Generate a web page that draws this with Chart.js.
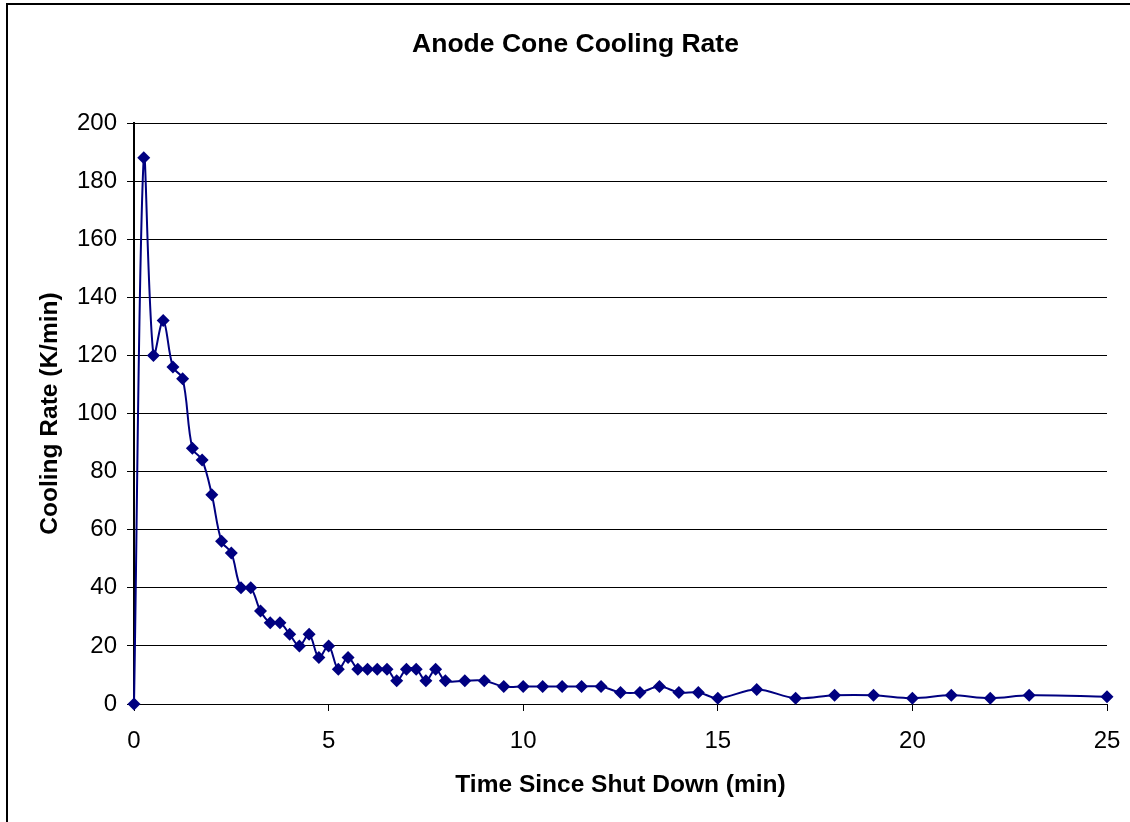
<!DOCTYPE html>
<html>
<head>
<meta charset="utf-8">
<title>Anode Cone Cooling Rate</title>
<script src="https://cdn.jsdelivr.net/npm/chart.js@4/dist/chart.umd.min.js"></script>
<style>
  html, body { margin: 0; padding: 0; background: #fff; overflow: hidden; }
  #wrap { position: relative; width: 1130px; height: 822px; }
  #frame {
    position: absolute; left: 6px; top: 3px; width: 1300px; height: 1000px;
    border: 2px solid #000; pointer-events: none;
  }
</style>
</head>
<body>
<div id="wrap">
  <canvas id="chart"></canvas>
  <div id="frame"></div>
</div>
<script>
// Cooling rate of the anode cone after shut down

const timeMin = [0, 0.25, 0.5, 0.75, 1, 1.25, 1.5, 1.75, 2, 2.25, 2.5, 2.75, 3, 3.25, 3.5, 3.75,
    4, 4.25, 4.5, 4.75, 5, 5.25, 5.5, 5.75, 6, 6.25, 6.5, 6.75, 7, 7.25, 7.5, 7.75, 8,
    8.5, 9, 9.5, 10, 10.5, 11, 11.5, 12, 12.5, 13, 13.5, 14, 14.5, 15,
    16, 17, 18, 19, 20, 21, 22, 23, 25];

const coolingRate = [0, 188, 120, 132, 116, 112, 88, 84, 72, 56, 52, 40, 40, 32, 28, 28,
    24, 20, 24, 16, 20, 12, 16, 12, 12, 12, 12, 8, 12, 12, 8, 12, 8,
    8, 8, 6, 6, 6, 6, 6, 6, 4, 4, 6, 4, 4, 2,
    5, 2, 3, 3, 2, 3, 2, 3, 2.5];

const xTicks = [0, 5, 10, 15, 20, 25];
const yTicks = [0, 20, 40, 60, 80, 100, 120, 140, 160, 180, 200];

const navy = '#000080';
const font = 'Arial, "Liberation Sans", sans-serif';

const points = timeMin.map((t, i) => ({ x: t, y: coolingRate[i] }));

const ctx = document.getElementById('chart').getContext('2d');
const chart = new Chart(ctx, {
    type: 'line',
    data: {
        datasets: [{
            label: 'Cooling Rate',
            data: points,
            borderColor: navy,
            backgroundColor: navy,
            borderWidth: 2,
            tension: 0.35,
            pointStyle: 'rectRot',
            pointRadius: 6.5,
            pointHoverRadius: 6.5,
            pointBorderWidth: 0,
            clip: false
        }]
    },
    options: {
        responsive: true,
        maintainAspectRatio: false,
        animation: false,
        // left padding shifts the title centre to match the original
        layout: { padding: { left: 44, right: 23, top: 0, bottom: 0 } },
        plugins: {
            legend: { display: false },
            tooltip: { enabled: false },
            title: {
                display: true,
                text: 'Anode Cone Cooling Rate',
                color: '#000',
                font: { family: font, size: 26.5, weight: 'bold' },
                padding: { top: 29.1, bottom: 62.1 }
            }
        },
        scales: {
            x: {
                type: 'linear',
                min: 0,
                max: 25,
                afterBuildTicks: (axis) => { axis.ticks = xTicks.map(v => ({ value: v })); },
                afterFit: (axis) => {
                    axis.height = 118;
                    axis.paddingLeft = 0;
                    axis.paddingRight = 0;
                },
                grid: { drawOnChartArea: false, drawTicks: true, tickLength: 7, color: '#000', lineWidth: 1 },
                border: { color: '#000', width: 1 },
                ticks: { color: '#000', font: { family: font, size: 24 }, padding: 16, maxRotation: 0 },
                title: {
                    display: true,
                    text: 'Time Since Shut Down (min)',
                    color: '#000',
                    font: { family: font, size: 24.5, weight: 'bold' },
                    padding: { top: 0, bottom: 22.3 }
                }
            },
            y: {
                min: 0,
                max: 200,
                afterBuildTicks: (axis) => { axis.ticks = yTicks.map(v => ({ value: v })); },
                afterFit: (axis) => {
                    axis.width = 90;
                    axis.paddingTop = 0;
                    axis.paddingBottom = 0;
                },
                grid: { color: '#000', lineWidth: 1, tickLength: 7 },
                border: { color: '#000', width: 2 },
                ticks: { color: '#000', font: { family: font, size: 24 }, padding: 10 },
                title: {
                    display: true,
                    text: 'Cooling Rate (K/min)',
                    color: '#000',
                    font: { family: font, size: 24.5, weight: 'bold' },
                    padding: { top: -8.2, bottom: 0 }
                }
            }
        }
    }
});
</script>
</body>
</html>
